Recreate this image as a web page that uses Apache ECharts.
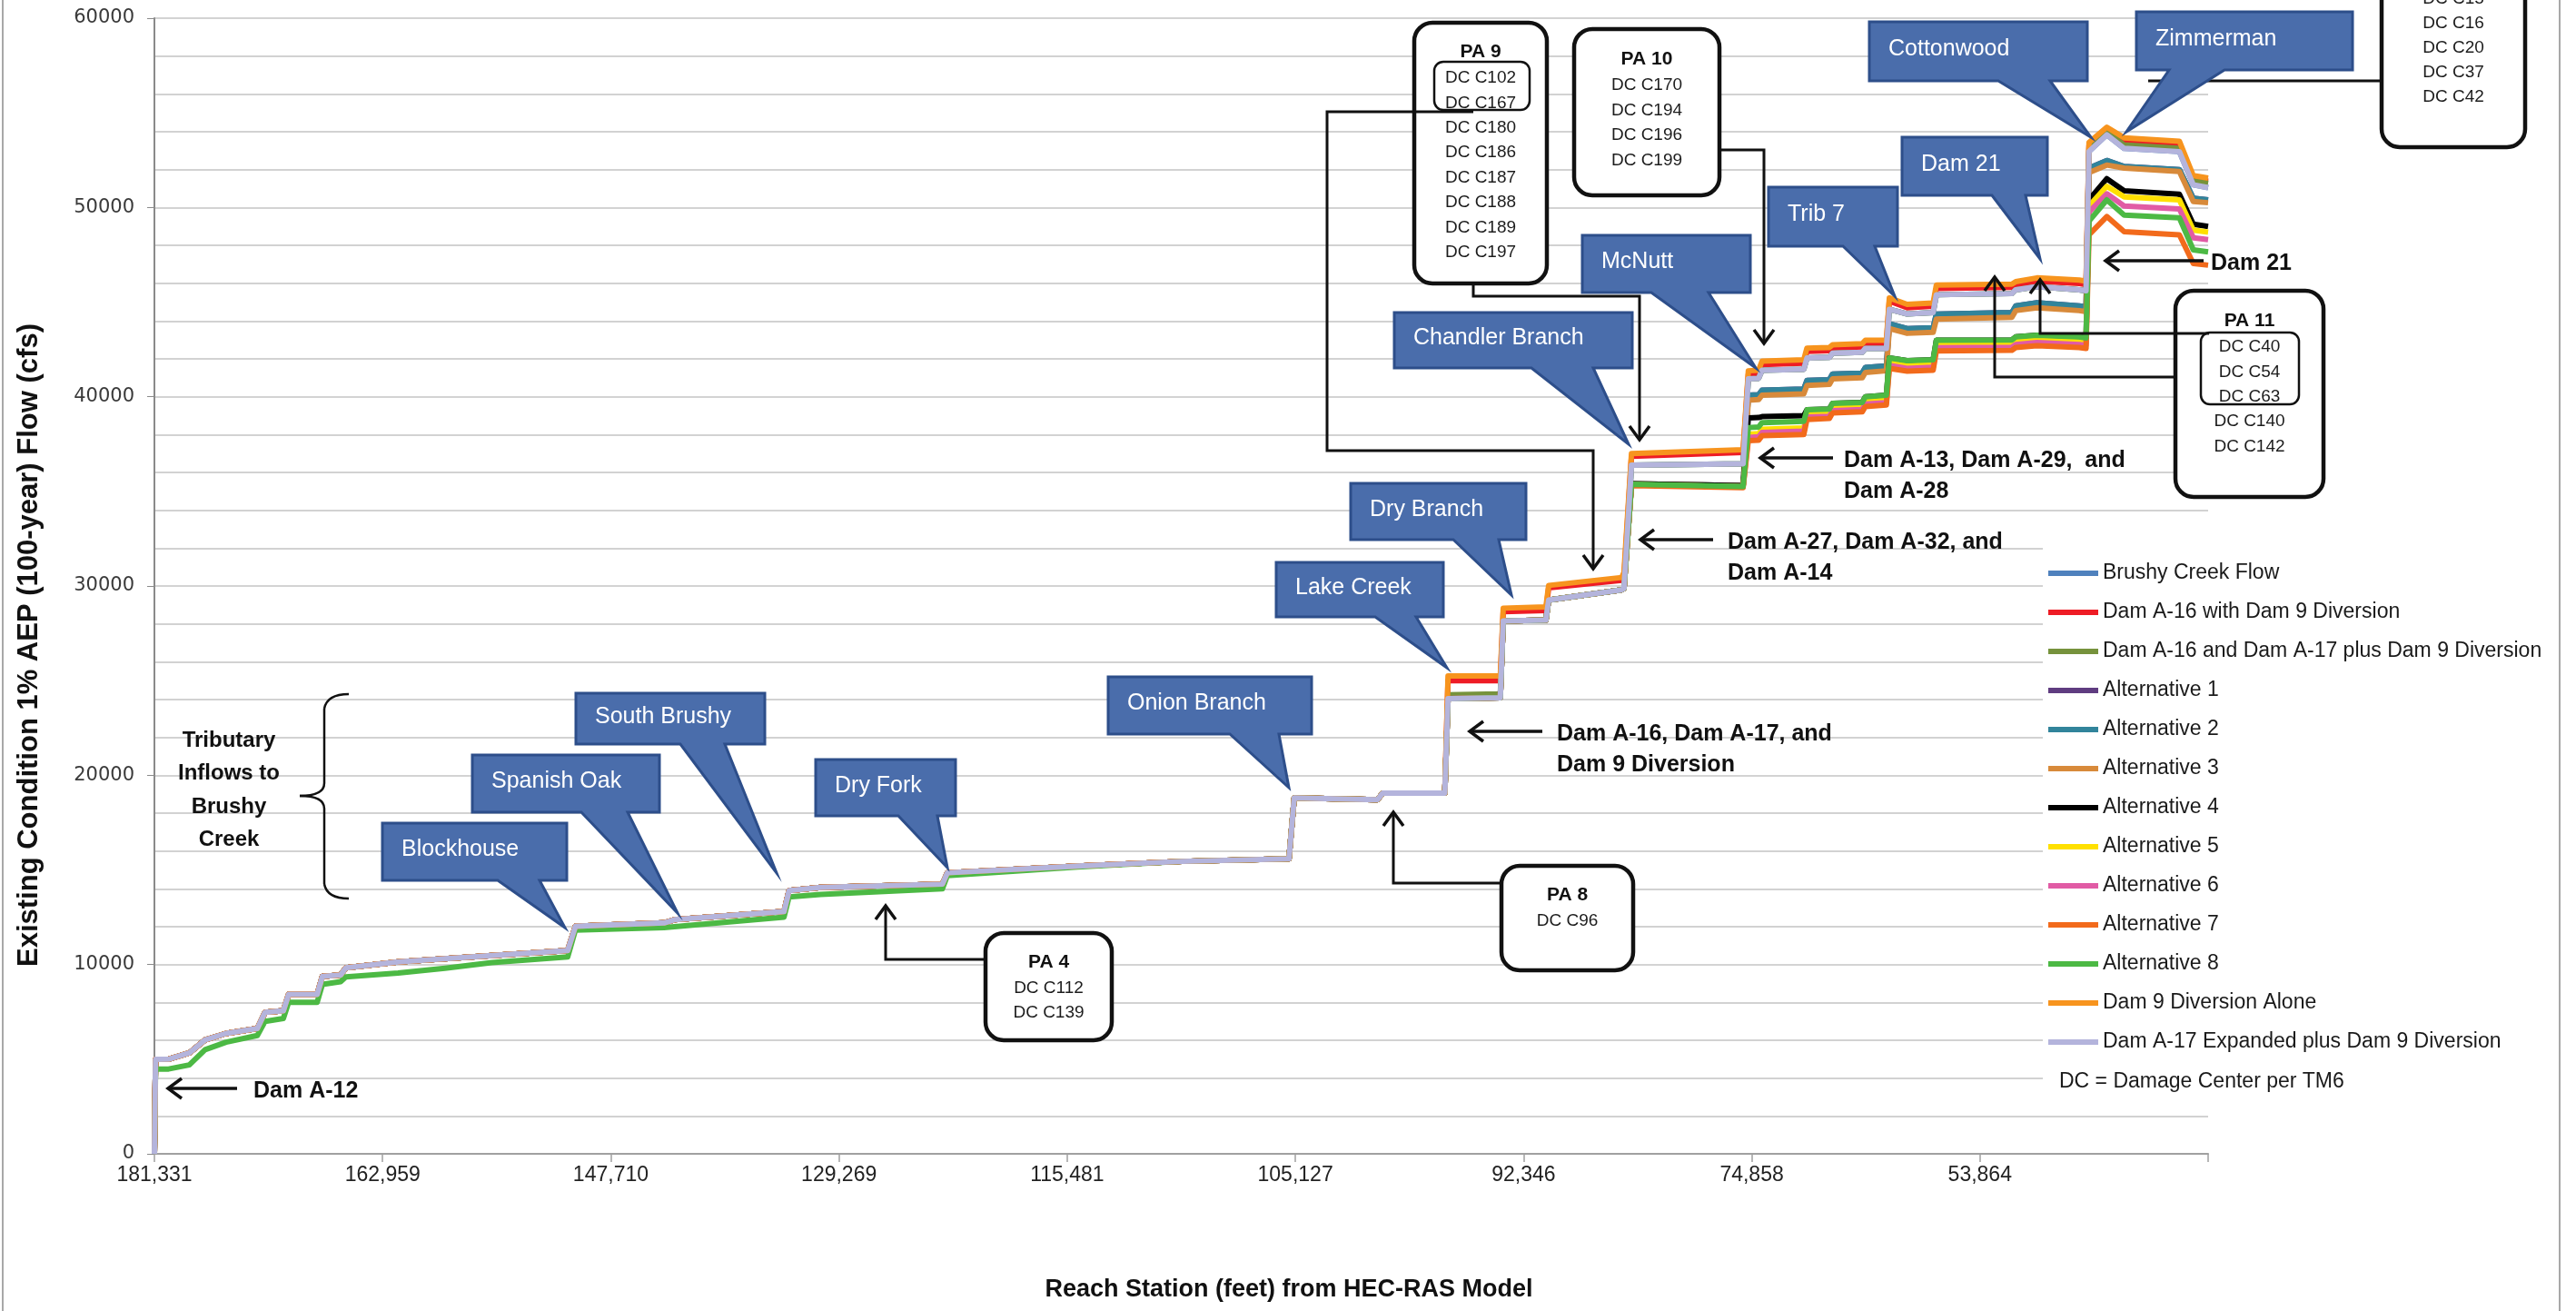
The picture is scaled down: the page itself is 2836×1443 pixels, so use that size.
<!DOCTYPE html>
<html>
<head>
<meta charset="utf-8">
<script src="https://cdn.jsdelivr.net/npm/echarts@6.0.0/dist/echarts.min.js"></script>
<style>
  html, body { margin: 0; padding: 0; background: #fff; }
  #chart-container { width: 2836px; height: 1443px; }
</style>
</head>
<body>
<div id="chart-container"></div>
<script>
// station labels shown under the x ticks (one tick per interval along the reach)
var stationTicks = ['181,331', '162,959', '147,710', '129,269', '115,481', '105,127', '92,346', '74,858', '53,864'];

// position along the reach, in tick intervals (0 = 181,331 ... 9 = downstream end)
var reachPos = [
  0, 0.005, 0.062, 0.153, 0.222, 0.314, 0.451, 0.485, 0.565, 0.588,
  0.713, 0.736, 0.816, 0.839, 1.068, 1.273, 1.479, 1.811, 1.845, 2.233,
  2.279, 2.759, 2.781, 2.919, 3.453, 3.475, 4.047, 4.503, 4.972, 4.995,
  5.360, 5.383, 5.655,
  5.669, 5.898, 5.911, 6.098, 6.110, 6.430, 6.440, 6.473, 6.962, 6.985,
  7.030, 7.045, 7.228, 7.242, 7.340, 7.354, 7.484, 7.498, 7.590, 7.603,
  7.681, 7.795, 7.809, 8.140, 8.157, 8.250, 8.435, 8.465, 8.478, 8.556,
  8.632, 8.874, 8.935, 9.000
];

// upstream reach: all scenarios share the same flow (Alt 8 runs a little lower)
var upstreamFlow = [0, 4990, 5000, 5330, 6020, 6360, 6620, 7480, 7560, 8420,
  8420, 9370, 9450, 9830, 10140, 10310, 10480, 10740, 12020, 12200,
  12370, 12800, 13910, 14080, 14250, 14850, 15200, 15450, 15590, 18800,
  18710, 19060, 19060];
var upstreamAlt8 = [0, 4480, 4480, 4700, 5500, 5900, 6250, 7000, 7150, 8000,
  8000, 8950, 9100, 9350, 9550, 9800, 10100, 10400, 11820, 11950,
  12000, 12500, 13570, 13700, 14000, 14700, 15150, 15450, 15590, 18800,
  18710, 19060, 19060];

// downstream reach, from the Dam A-16 / A-17 jump to the end
var dsDam9Alone = [25250, 25250, 28830, 28900, 30030, 30450, 30720, 37000, 37200, 41370,
  41400, 41880, 41950, 42570, 42600, 42740, 42800, 42990, 42990, 45220,
  44880, 44950, 45900, 45950, 46080, 46280, 46160, 46100, 53440, 54240,
  53680, 53500, 51680, 51550];
var dsDamA16 = [25000, 25000, 28640, 28700, 29900, 30300, 30400, 36850, 37050, 41190,
  41220, 41700, 41770, 42400, 42430, 42570, 42630, 42820, 42820, 45050,
  44700, 44780, 45720, 45780, 45900, 46100, 45980, 45920, 53280, 54050,
  53500, 53330, 51500, 51380];
var dsExpanded = [24050, 24100, 28150, 28200, 29260, 29800, 29860, 36380, 36460, 40940,
  40970, 41400, 41450, 42050, 42080, 42300, 42350, 42550, 42550, 44620,
  44370, 44450, 45390, 45450, 45650, 45820, 45650, 45600, 52960, 53840,
  53120, 52950, 51200, 51050];
var dsBrushy = [24050, 24100, 28150, 28200, 29260, 29800, 29860, 36380, 36460, 40940,
  40970, 41400, 41450, 42050, 42080, 42300, 42350, 42550, 42550, 44620,
  44370, 44450, 45390, 45450, 45650, 45820, 45650, 45600, 52960, 53840,
  53120, 52950, 51200, 51050];
var dsA16A17 = [24250, 24300, 28150, 28200, 29260, 29800, 29860, 36380, 36460, 40940,
  40970, 41400, 41450, 42050, 42080, 42300, 42350, 42550, 42550, 44620,
  44370, 44450, 45390, 45450, 45650, 45820, 45650, 45600, 53150, 54000,
  53300, 53130, 51420, 51280];
var dsAlt1 = [24050, 24100, 28150, 28200, 29260, 29800, 29860, 35400, 35300, 40080,
  40100, 40340, 40400, 40860, 40900, 41200, 41250, 41540, 41630, 43850,
  43600, 43650, 44370, 44450, 44800, 44970, 44800, 44750, 52080, 52480,
  52160, 52000, 50480, 50400];
var dsAlt2 = [24050, 24100, 28150, 28200, 29260, 29800, 29860, 35400, 35300, 40080,
  40100, 40340, 40400, 40860, 40900, 41200, 41250, 41540, 41630, 43850,
  43600, 43650, 44370, 44450, 44800, 44970, 44800, 44750, 52080, 52480,
  52160, 52000, 50480, 50400];
var dsAlt3 = [24050, 24100, 28150, 28200, 29260, 29800, 29860, 35400, 35300, 39820,
  39850, 40080, 40150, 40600, 40650, 40940, 41000, 41280, 41370, 43600,
  43350, 43400, 44100, 44200, 44550, 44700, 44550, 44500, 51840, 52240,
  52080, 51900, 50320, 50250];
var dsAlt4 = [24050, 24100, 28150, 28200, 29260, 29800, 29860, 35400, 35300, 38880,
  38900, 38950, 39000, 39310, 39350, 39650, 39700, 40000, 40080, 42050,
  41900, 41950, 42990, 43000, 43160, 43250, 43160, 43100, 50400, 51520,
  50880, 50700, 49120, 49000];
var dsAlt5 = [24050, 24100, 28150, 28200, 29260, 29800, 29860, 35350, 35250, 38020,
  38050, 38280, 38350, 39060, 39100, 39400, 39450, 39740, 39820, 41790,
  41640, 41700, 42730, 42750, 42900, 43000, 42900, 42850, 50080, 51120,
  50560, 50400, 48800, 48700];
var dsAlt6 = [24050, 24100, 28150, 28200, 29260, 29800, 29860, 35350, 35250, 37850,
  37880, 38110, 38180, 38930, 38970, 39270, 39320, 39610, 39690, 41650,
  41500, 41560, 42590, 42610, 42760, 42860, 42760, 42710, 49760, 50720,
  50080, 49920, 48400, 48300];
var dsAlt7 = [24050, 24100, 28150, 28200, 29260, 29800, 29860, 35300, 35200, 37680,
  37700, 37940, 38000, 38800, 38850, 39140, 39200, 39480, 39560, 41500,
  41350, 41400, 42420, 42450, 42600, 42700, 42600, 42550, 48560, 49520,
  48720, 48550, 47040, 46950];
var dsAlt8 = [24050, 24100, 28150, 28200, 29260, 29800, 29860, 35380, 35260, 38370,
  38400, 38630, 38700, 39310, 39350, 39650, 39700, 40000, 40080, 42050,
  41900, 41950, 42990, 43000, 43160, 43250, 43160, 43100, 49280, 50400,
  49600, 49450, 47760, 47650];

var scenarios = [
  ['Brushy Creek Flow', '#4F81BD', upstreamFlow.concat(dsBrushy)],
  ['Dam A-16 with Dam 9 Diversion', '#EE1C25', upstreamFlow.concat(dsDamA16)],
  ['Dam A-16 and Dam A-17 plus Dam 9 Diversion', '#76923C', upstreamFlow.concat(dsA16A17)],
  ['Alternative 1', '#5F3C80', upstreamFlow.concat(dsAlt1)],
  ['Alternative 2', '#31849B', upstreamFlow.concat(dsAlt2)],
  ['Alternative 3', '#D88A3A', upstreamFlow.concat(dsAlt3)],
  ['Alternative 4', '#000000', upstreamFlow.concat(dsAlt4)],
  ['Alternative 5', '#FFE000', upstreamFlow.concat(dsAlt5)],
  ['Alternative 6', '#E15BA5', upstreamFlow.concat(dsAlt6)],
  ['Alternative 7', '#F26A1B', upstreamFlow.concat(dsAlt7)],
  ['Alternative 8', '#4CB944', upstreamAlt8.concat(dsAlt8)],
  ['Dam 9 Diversion Alone', '#F7941E', upstreamFlow.concat(dsDam9Alone)],
  ['Dam A-17 Expanded plus Dam 9 Diversion', '#B4B4DC', upstreamFlow.concat(dsExpanded)]
];

// ---- annotations (page pixels) ----
var callouts = [
  // text, left, top, right, bottom, pointer base left, base right, tip x, tip y
  ['Blockhouse', 421, 906, 624, 969, 548, 594, 622, 1021],
  ['Spanish Oak', 520, 831, 726, 894, 640, 691, 746, 1005],
  ['South Brushy', 634, 763, 842, 819, 749, 798, 855, 961],
  ['Dry Fork', 898, 836, 1052, 898, 989, 1032, 1043, 955],
  ['Onion Branch', 1220, 745, 1444, 808, 1354, 1408, 1419, 867],
  ['Lake Creek', 1405, 619, 1589, 679, 1514, 1559, 1593, 735],
  ['Dry Branch', 1487, 532, 1680, 594, 1600, 1650, 1664, 655],
  ['Chandler Branch', 1535, 344, 1797, 405, 1686, 1754, 1793, 489],
  ['McNutt', 1742, 259, 1927, 322, 1818, 1881, 1933, 405],
  ['Trib 7', 1947, 206, 2089, 271, 2029, 2064, 2086, 326],
  ['Dam 21', 2094, 151, 2254, 215, 2193, 2230, 2246, 285],
  ['Cottonwood', 2058, 24, 2298, 89, 2200, 2257, 2302, 151],
  ['Zimmerman', 2352, 13, 2590, 77, 2388, 2449, 2341, 145]
];

var paBoxes = [
  { x: 1557, y: 25, w: 146, h: 287, title: 'PA 9', titleY: 57, lineY: 86, step: 27.4,
    lines: ['DC C102', 'DC C167', 'DC C180', 'DC C186', 'DC C187', 'DC C188', 'DC C189', 'DC C197'],
    inner: [1579, 68, 105, 53] },
  { x: 1733, y: 32, w: 160, h: 183, title: 'PA 10', titleY: 65, lineY: 94, step: 27.6,
    lines: ['DC C170', 'DC C194', 'DC C196', 'DC C199'] },
  { x: 1085, y: 1027, w: 139, h: 118, title: 'PA 4', titleY: 1059, lineY: 1088, step: 26.5,
    lines: ['DC C112', 'DC C139'] },
  { x: 1653, y: 953, w: 145, h: 115, title: 'PA 8', titleY: 985, lineY: 1014, step: 27,
    lines: ['DC C96'] },
  { x: 2395, y: 320, w: 163, h: 227, title: 'PA 11', titleY: 353, lineY: 382, step: 27.4,
    lines: ['DC C40', 'DC C54', 'DC C63', 'DC C140', 'DC C142'],
    inner: [2423, 366, 108, 79] },
  { x: 2622, y: -120, w: 158, h: 282, title: '', titleY: -100, lineY: -1, step: 27,
    lines: ['DC C15', 'DC C16', 'DC C20', 'DC C37', 'DC C42'] }
];

var connectors = [
  { pts: [[1085, 1056], [975, 1056], [975, 997]], head: 'up' },
  { pts: [[1653, 972], [1534, 972], [1534, 894]], head: 'up' },
  { pts: [[1622, 123], [1461, 123], [1461, 496], [1754, 496], [1754, 626]], head: 'down' },
  { pts: [[1622, 312], [1622, 326], [1805, 326], [1805, 484]], head: 'down' },
  { pts: [[1893, 165], [1942, 165], [1942, 378]], head: 'down' },
  { pts: [[2395, 415], [2196, 415], [2196, 305]], head: 'up' },
  { pts: [[2432, 367], [2246, 367], [2246, 308]], head: 'up' },
  { pts: [[2622, 89], [2365, 89]], head: null }
];

var damLabels = [
  // arrow start x, arrow tip x, y, text x, lines
  [261, 185, 1198, 279, ['Dam A-12']],
  [1698, 1618, 805, 1714, ['Dam A-16, Dam A-17, and', 'Dam 9 Diversion']],
  [1886, 1806, 594, 1902, ['Dam A-27, Dam A-32, and', 'Dam A-14']],
  [2018, 1938, 504, 2030, ['Dam A-13, Dam A-29,  and', 'Dam A-28']],
  [2426, 2318, 287, 2434, ['Dam 21']]
];

var FONT = '"Liberation Sans", Arial, sans-serif';
var ink = '#111111';
var graphics = [];

function arrowHead(tx, ty, dir) {
  var s = 15, w = 11, pts;
  if (dir === 'left') pts = [[tx + s, ty - w], [tx, ty], [tx + s, ty + w]];
  else if (dir === 'up') pts = [[tx - w, ty + s], [tx, ty], [tx + w, ty + s]];
  else pts = [[tx - w, ty - s], [tx, ty], [tx + w, ty - s]];
  return { type: 'polyline', z: 101, shape: { points: pts },
    style: { stroke: ink, lineWidth: 3.5, fill: null } };
}

// white panel behind the legend
graphics.push({ type: 'rect', z: 55, shape: { x: 2249, y: 603, width: 560, height: 610 },
  style: { fill: '#ffffff' } });

// PA boxes
paBoxes.forEach(function (b) {
  graphics.push({ type: 'rect', z: 100, shape: { x: b.x, y: b.y, width: b.w, height: b.h, r: 20 },
    style: { fill: '#ffffff', stroke: ink, lineWidth: 4.5 } });
  if (b.inner) {
    graphics.push({ type: 'rect', z: 100,
      shape: { x: b.inner[0], y: b.inner[1], width: b.inner[2], height: b.inner[3], r: 10 },
      style: { fill: null, stroke: ink, lineWidth: 2.5 } });
  }
  var cx = b.x + b.w / 2;
  if (b.title) {
    graphics.push({ type: 'text', z: 100, x: cx, y: b.titleY,
      style: { text: b.title, fill: ink, fontSize: 21, fontWeight: 'bold', fontFamily: FONT,
        align: 'center', verticalAlign: 'middle' } });
  }
  b.lines.forEach(function (t, i) {
    graphics.push({ type: 'text', z: 100, x: cx, y: b.lineY + i * b.step,
      style: { text: t, fill: '#1c1c1c', fontSize: 19, fontFamily: FONT,
        align: 'center', verticalAlign: 'middle' } });
  });
});

// connectors
connectors.forEach(function (c) {
  graphics.push({ type: 'polyline', z: 101, shape: { points: c.pts },
    style: { stroke: ink, lineWidth: 3, fill: null } });
  if (c.head) {
    var tip = c.pts[c.pts.length - 1];
    graphics.push(arrowHead(tip[0], tip[1], c.head));
  }
});

// blue callouts
callouts.forEach(function (c) {
  var pts = [[c[1], c[2]], [c[3], c[2]], [c[3], c[4]], [c[6], c[4]], [c[7], c[8]], [c[5], c[4]], [c[1], c[4]]];
  graphics.push({ type: 'polygon', z: 102, shape: { points: pts },
    style: { fill: '#4A6DAB', stroke: '#2D4E8A', lineWidth: 3, lineJoin: 'miter' } });
  graphics.push({ type: 'text', z: 103, x: c[1] + 21, y: (c[2] + c[4]) / 2 - 2,
    style: { text: c[0], fill: '#ffffff', fontSize: 25, fontFamily: FONT,
      align: 'left', verticalAlign: 'middle' } });
});

// dam labels with arrows
damLabels.forEach(function (d) {
  graphics.push({ type: 'line', z: 101, shape: { x1: d[0], y1: d[2], x2: d[1] + 2, y2: d[2] },
    style: { stroke: ink, lineWidth: 3.5 } });
  graphics.push(arrowHead(d[1], d[2], 'left'));
  d[4].forEach(function (t, i) {
    graphics.push({ type: 'text', z: 101, x: d[3], y: d[2] + 3 + i * 34,
      style: { text: t, fill: ink, fontSize: 25, fontWeight: 'bold', fontFamily: FONT,
        align: 'left', verticalAlign: 'middle' } });
  });
});

// tributary brace (curly bracket) and text
var braceStyle = { stroke: ink, lineWidth: 2.5, fill: null };
graphics.push({ type: 'bezierCurve', z: 101, shape: { x1: 384, y1: 764, x2: 357, y2: 780, cpx1: 360, cpy1: 764 }, style: braceStyle });
graphics.push({ type: 'line', z: 101, shape: { x1: 357, y1: 780, x2: 357, y2: 862 }, style: braceStyle });
graphics.push({ type: 'bezierCurve', z: 101, shape: { x1: 357, y1: 862, x2: 330, y2: 876, cpx1: 357, cpy1: 876 }, style: braceStyle });
graphics.push({ type: 'bezierCurve', z: 101, shape: { x1: 330, y1: 876, x2: 357, y2: 890, cpx1: 357, cpy1: 876 }, style: braceStyle });
graphics.push({ type: 'line', z: 101, shape: { x1: 357, y1: 890, x2: 357, y2: 973 }, style: braceStyle });
graphics.push({ type: 'bezierCurve', z: 101, shape: { x1: 357, y1: 973, x2: 384, y2: 989, cpx1: 360, cpy1: 989 }, style: braceStyle });
['Tributary', 'Inflows to', 'Brushy', 'Creek'].forEach(function (t, i) {
  graphics.push({ type: 'text', z: 101, x: 252, y: 815 + i * 36.6,
    style: { text: t, fill: ink, fontSize: 24, fontWeight: 'bold', fontFamily: FONT,
      align: 'center', verticalAlign: 'middle' } });
});

// axis titles and legend note
graphics.push({ type: 'text', z: 101, x: 32, y: 710, rotation: Math.PI / 2,
  style: { text: 'Existing Condition 1% AEP (100-year) Flow (cfs)', fill: ink, fontSize: 31,
    fontWeight: 'bold', fontFamily: FONT, align: 'center', verticalAlign: 'middle' } });
graphics.push({ type: 'text', z: 101, x: 1419, y: 1420,
  style: { text: 'Reach Station (feet) from HEC-RAS Model', fill: ink, fontSize: 27,
    fontWeight: 'bold', fontFamily: FONT, align: 'center', verticalAlign: 'middle' } });
graphics.push({ type: 'text', z: 101, x: 2267, y: 1191,
  style: { text: 'DC = Damage Center per TM6', fill: '#1a1a1a', fontSize: 23, fontFamily: FONT,
    align: 'left', verticalAlign: 'middle' } });

// chart-area frame edges
graphics.push({ type: 'line', z: 101, shape: { x1: 3, y1: 0, x2: 3, y2: 1443 },
  style: { stroke: '#a8a8a8', lineWidth: 2 } });
graphics.push({ type: 'line', z: 101, shape: { x1: 2818, y1: 0, x2: 2818, y2: 1443 },
  style: { stroke: '#a8a8a8', lineWidth: 2 } });

var chartDom = document.getElementById('chart-container');
var myChart = echarts.init(chartDom);

var option = {
  animation: false,
  backgroundColor: '#ffffff',
  grid: { left: 170, right: 405, top: 20, bottom: 173, containLabel: false },
  legend: {
    orient: 'vertical',
    left: 2255,
    top: 619,
    padding: 0,
    itemWidth: 55,
    itemHeight: 6,
    itemGap: 19,
    icon: 'rect',
    z: 60,
    textStyle: { fontSize: 23, lineHeight: 24, fontFamily: FONT, color: '#1a1a1a' },
    data: scenarios.map(function (s) { return s[0]; })
  },
  xAxis: {
    type: 'value',
    min: 0,
    max: 9,
    interval: 1,
    axisLine: { show: true, lineStyle: { color: '#a0a0a0', width: 2 } },
    axisTick: { show: true, length: 9, lineStyle: { color: '#a0a0a0', width: 1.5 } },
    axisLabel: {
      margin: 12,
      fontSize: 23,
      fontFamily: FONT,
      color: '#222222',
      showMinLabel: true,
      showMaxLabel: true,
      formatter: function (v) { return stationTicks[Math.round(v)] || ''; }
    },
    splitLine: { show: false }
  },
  yAxis: {
    type: 'value',
    min: 0,
    max: 60000,
    interval: 10000,
    axisLine: { show: true, lineStyle: { color: '#8a8a8a', width: 2 } },
    axisTick: { show: true, length: 8, lineStyle: { color: '#8a8a8a' } },
    axisLabel: {
      margin: 22, fontSize: 21, fontFamily: '"DejaVu Sans", sans-serif', color: '#3a3a3a',
      formatter: function (v) { return String(v); }
    },
    splitLine: { show: true, lineStyle: { color: '#c4c4c4', width: 1.5 } },
    minorTick: { show: false, splitNumber: 5 },
    minorSplitLine: { show: true, lineStyle: { color: '#c4c4c4', width: 1.5 } }
  },
  series: scenarios.map(function (s) {
    return {
      name: s[0],
      type: 'line',
      showSymbol: false,
      symbol: 'none',
      color: s[1],
      lineStyle: { width: 6, color: s[1], join: 'round' },
      data: reachPos.map(function (x, i) { return [x, s[2][i]]; })
    };
  }),
  graphic: graphics
};

option && myChart.setOption(option);
</script>
</body>
</html>
